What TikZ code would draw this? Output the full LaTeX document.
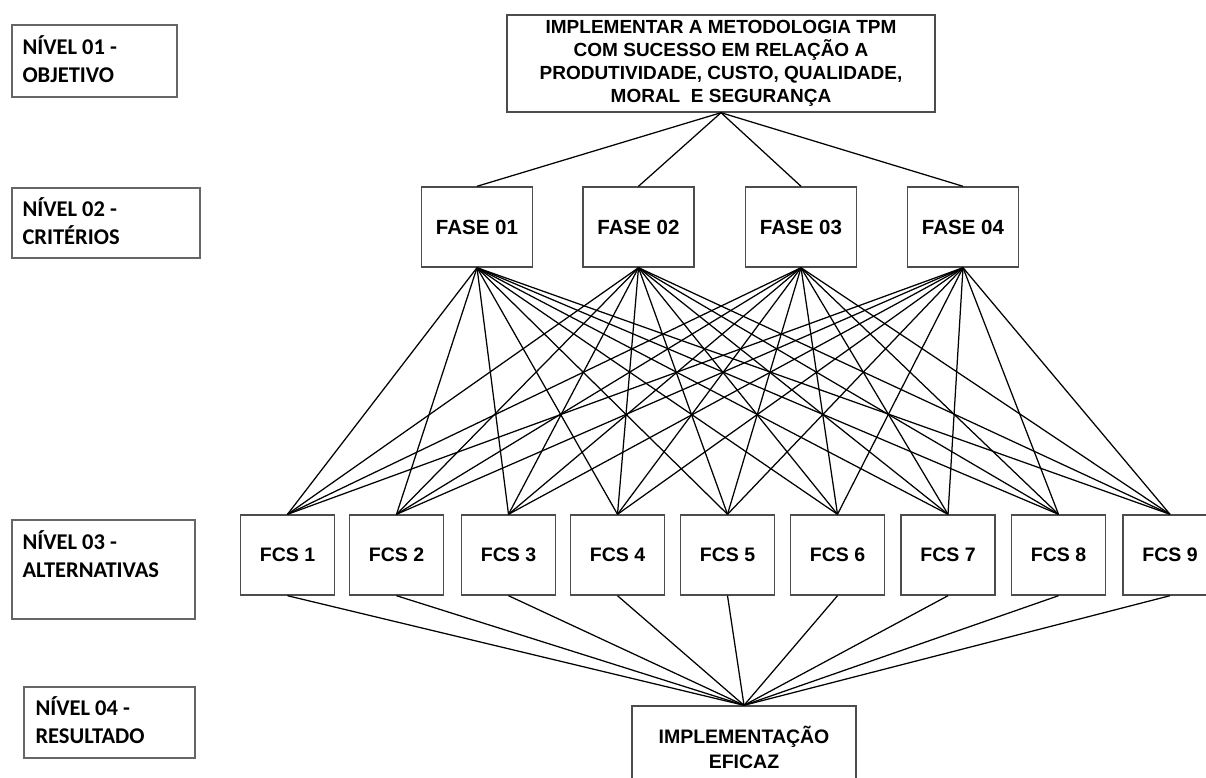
\documentclass[tikz,border=0pt]{standalone}
\usepackage{fontspec}
\setmainfont{Liberation Sans}
\newfontfamily\calfont{Carlito}
\begin{document}
\begin{tikzpicture}[x=1pt,y=-1pt,
  box/.style={draw=black!70, line width=1.4pt, rectangle, inner sep=0pt, align=center,
    font=\bfseries\fontsize{19}{23}\selectfont},
  fase/.style={box, minimum width=111, minimum height=80, font=\bfseries\fontsize{20.5}{24}\selectfont},
  fcs/.style={box, minimum width=94, minimum height=80, font=\bfseries\fontsize{19.5}{24}\selectfont},
  lvl/.style={draw=black!60, line width=1.4pt, rectangle, inner sep=0pt},
  lvltxt/.style={anchor=north west, inner sep=0pt, align=left,
    font=\calfont\bfseries\fontsize{22.5}{28.5}\selectfont},
  link/.style={line width=1.25pt, black}]
\useasboundingbox (0,0) rectangle (1206,778);
\fill[white] (0,0) rectangle (1206,778);

% level labels
\node[lvl, minimum width=165, minimum height=72] (l1) at (94.5,61) {};
\node[lvltxt] (t1) at ([xshift=11pt,yshift=-11pt]l1.north west) {NÍVEL 01 -\\OBJETIVO};
\node[lvl, minimum width=188, minimum height=70] (l2) at (106,223) {};
\node[lvltxt] (t2) at ([xshift=11pt,yshift=-10pt]l2.north west) {NÍVEL 02 -\\CRITÉRIOS};
\node[lvl, minimum width=183, minimum height=99] (l3) at (103.5,569.5) {};
\node[lvltxt] (t3) at ([xshift=11pt,yshift=-11pt]l3.north west) {NÍVEL 03 -\\ALTERNATIVAS};
\node[lvl, minimum width=171, minimum height=71] (l4) at (109.5,722.5) {};
\node[lvltxt] (t4) at ([xshift=12pt,yshift=-10pt]l4.north west) {NÍVEL 04 -\\RESULTADO};

% objective
\node[box, minimum width=428, minimum height=97] (obj) at (721,63.5)
  {IMPLEMENTAR A METODOLOGIA TPM\\COM SUCESSO EM RELAÇÃO A\\PRODUTIVIDADE, CUSTO, QUALIDADE,\\MORAL\ \ E SEGURANÇA};

% criteria
\node[fase] (f1) at (477,227) {FASE 01};
\node[fase] (f2) at (638.5,227) {FASE 02};
\node[fase] (f3) at (801,227) {FASE 03};
\node[fase] (f4) at (963,227) {FASE 04};

% alternatives
\node[fcs] (c1) at (287.5,555) {FCS 1};
\node[fcs] (c2) at (396.5,555) {FCS 2};
\node[fcs] (c3) at (508.5,555) {FCS 3};
\node[fcs] (c4) at (617.5,555) {FCS 4};
\node[fcs] (c5) at (727.5,555) {FCS 5};
\node[fcs] (c6) at (837.5,555) {FCS 6};
\node[fcs] (c7) at (948,555) {FCS 7};
\node[fcs] (c8) at (1058.5,555) {FCS 8};
\node[fcs] (c9) at (1170,555) {FCS 9};

% result
\node[box, minimum width=224, minimum height=82, font=\bfseries\fontsize{19.5}{25}\selectfont] (res) at (744,747)
  {IMPLEMENTAÇÃO\\EFICAZ};

% connectors
\foreach \i in {1,...,4} \draw[link] (obj.south) -- (f\i.north);
\foreach \i in {1,...,4} \foreach \j in {1,...,9} \draw[link] (f\i.south) -- (c\j.north);
\foreach \j in {1,...,9} \draw[link] (c\j.south) -- (res.north);
\end{tikzpicture}
\end{document}
